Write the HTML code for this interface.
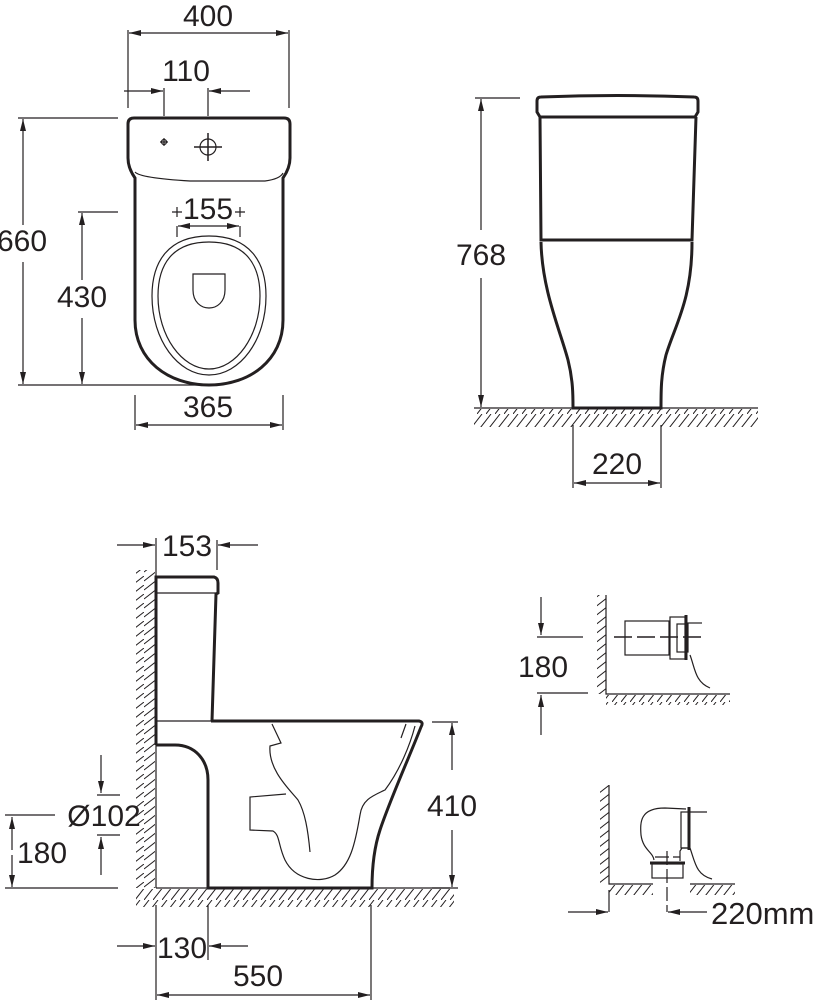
<!DOCTYPE html>
<html><head><meta charset="utf-8"><style>
html,body{margin:0;padding:0;background:#fff}
svg{display:block}
text{font-family:"Liberation Sans",sans-serif;font-size:30px;fill:#231f20}
</style></head><body>
<svg width="821" height="1000" viewBox="0 0 821 1000" xmlns="http://www.w3.org/2000/svg">
<defs>
<pattern id="hf" patternUnits="userSpaceOnUse" width="9" height="18"><path d="M-9,18 L5,0 M0,18 L14,0" stroke="#231f20" stroke-width="1"/></pattern>
<pattern id="hw" patternUnits="userSpaceOnUse" width="18" height="9"><path d="M0,5 L18,-9 M0,14 L18,0" stroke="#231f20" stroke-width="1"/></pattern>
<marker id="a" viewBox="0 0 12 6" refX="12" refY="3" markerWidth="12" markerHeight="6" orient="auto" markerUnits="userSpaceOnUse"><path d="M0,0 L12,3 L0,6 Z" fill="#231f20"/></marker>
</defs>
<g stroke="#231f20" fill="none" stroke-width="1.2">
<!-- TOP LEFT -->
<path d="M128,30 V108 M289,30 V108"/>
<path d="M208,33 H129" marker-end="url(#a)"/><path d="M208,33 H288" marker-end="url(#a)"/>
<path d="M164,88 V116 M208,88 V116"/>
<path d="M124,91 H163" marker-end="url(#a)"/><path d="M250,91 H209" marker-end="url(#a)"/>
<path d="M128,124 Q128,118 134,118 L284,118 Q290,118 290,124 L290,158 Q290,168 283,178 L283,320 C283,360 250,385 209,385 C168,385 135,360 135,320 L135,178 Q128,168 128,158 Z" stroke-width="3"/>
<path d="M135,172 Q140,178 190,181 L265,181 Q280,179 283,173"/>
<path d="M160,142 H168 M164,138 V146"/><circle cx="164" cy="142" r="2.5"/>
<circle cx="208" cy="147" r="8"/><path d="M194,147 H222 M208,133 V161" stroke-width="1.5"/>
<path d="M172,212 H182 M177,207 V217 M235,212 H245 M240,207 V217"/>
<path d="M177,226 V237 M240,226 V237"/>
<path d="M208,226 H178" marker-end="url(#a)"/><path d="M208,226 H239" marker-end="url(#a)"/>
<path d="M209,236 C250,236 266,262 266,296 C266,340 240,375 209,375 C178,375 152,340 152,296 C152,262 168,236 209,236 Z"/>
<path d="M209,242 C246,242 260,265 260,296 C260,336 236,369 209,369 C182,369 158,336 158,296 C158,265 172,242 209,242 Z"/>
<path d="M193,274 L225,274 L225,290 C225,302 217,308 209,308 C201,308 193,302 193,290 Z"/>
<path d="M18,118 H118 M18,385 H200 M78,212 H118"/>
<path d="M23,225 V119" marker-end="url(#a)"/><path d="M23,262 V384" marker-end="url(#a)"/>
<path d="M82,280 V213" marker-end="url(#a)"/><path d="M82,318 V384" marker-end="url(#a)"/>
<path d="M135,395 V430 M283,395 V430"/>
<path d="M208,425 H136" marker-end="url(#a)"/><path d="M208,425 H282" marker-end="url(#a)"/>
<!-- TOP RIGHT -->
<path d="M475,98 H520"/>
<path d="M481,230 V99" marker-end="url(#a)"/><path d="M481,278 V407" marker-end="url(#a)"/>
<path d="M537,101 Q537,97 541,97 Q617,94 694,97 Q698,97 698,101 L698,112 L695,117 L540,117 L537,112 Z" stroke-width="3"/>
<path d="M540,117 L541,240 L692,240 L696,117" stroke-width="3"/>
<path d="M541,242 C542,290 560,330 568,360 C573,380 573,395 573,408 L661,408 C661,390 661,375 666,355 C675,325 692,300 692,242" stroke-width="3"/>
<rect x="474" y="409" width="284" height="18" fill="url(#hf)" stroke="none"/>
<path d="M474,408 H758"/>
<path d="M573,425 V488 M661,425 V488"/>
<path d="M617,483 H574" marker-end="url(#a)"/><path d="M617,483 H660" marker-end="url(#a)"/>
<!-- BOTTOM LEFT -->
<path d="M156,538 V570 M217,540 V570"/>
<path d="M117,545 H155" marker-end="url(#a)"/><path d="M258,545 H218" marker-end="url(#a)"/>
<rect x="136" y="570" width="19" height="318" fill="url(#hw)" stroke="none"/>
<path d="M156,570 V888"/>
<path d="M156,745 V577 L214,577 Q218,578 218,583 L218,593 L216,594 L212,721" stroke-width="3"/>
<path d="M157,593 H216 M156,721 H211"/>
<path d="M211,721 L419,721 Q424,722 421,727 C408,760 390,800 380,830 C374,848 372,870 372,888 L208,888 L208,780 C208,760 195,745 175,745 L156,745" stroke-width="3"/>
<path d="M272,724 L281,743 L270,746 C268,770 290,790 298,800 C305,812 308,830 310,852"/>
<path d="M286,794 L250,797 L250,830 L273,831 C280,835 278,845 285,860 C295,880 320,884 335,875 C350,865 355,845 360,815 C362,800 372,796 385,790 C400,770 410,745 415,726"/>
<path d="M406,724 L401,738"/>
<rect x="136" y="889" width="318" height="18" fill="url(#hf)" stroke="none"/>
<path d="M156,888 H450"/>
<path d="M101,755 V793" marker-end="url(#a)"/><path d="M97,795 H120 M97,835 H120"/><path d="M101,875 V837" marker-end="url(#a)"/>
<path d="M5,815 H55 M5,888 H118"/>
<path d="M12,850 V817" marker-end="url(#a)"/><path d="M12,855 V887" marker-end="url(#a)"/>
<path d="M432,722 H458 M432,888 H458"/>
<path d="M452,770 V723" marker-end="url(#a)"/><path d="M452,830 V887" marker-end="url(#a)"/>
<path d="M208,905 V960 M156,905 V1000 M371,905 V1000"/>
<path d="M117,946 H155" marker-end="url(#a)"/><path d="M248,946 H209" marker-end="url(#a)"/>
<path d="M258,995 H157" marker-end="url(#a)"/><path d="M258,995 H370" marker-end="url(#a)"/>
<!-- BOTTOM RIGHT UPPER -->
<rect x="597" y="595" width="9" height="99" fill="url(#hw)" stroke="none"/>
<path d="M606,595 V694 H730"/>
<rect x="606" y="695" width="124" height="10" fill="url(#hf)" stroke="none"/>
<path d="M541,597 V635" marker-end="url(#a)"/><path d="M537,637 H583 M537,693 H588"/><path d="M541,735 V695" marker-end="url(#a)"/>
<rect x="625" y="621" width="44" height="34"/>
<rect x="670" y="617" width="15" height="42"/>
<rect x="677" y="624" width="11" height="28"/>
<path d="M686,615 V660" stroke-width="3"/>
<path d="M686,623 H702"/>
<path d="M614,637 H706" stroke-dasharray="18,5" stroke-width="1.5"/>
<path d="M690,655 C695,668 695,682 710,688"/>
<!-- BOTTOM RIGHT LOWER -->
<rect x="600" y="785" width="9" height="99" fill="url(#hw)" stroke="none"/>
<path d="M609,785 V884 H653 M690,884 H735"/>
<rect x="609" y="885" width="44" height="10" fill="url(#hf)" stroke="none"/>
<rect x="690" y="885" width="45" height="10" fill="url(#hf)" stroke="none"/>
<path d="M686,809 L665,808 C640,808 640,822 641,835 C643,850 653,852 654,860"/>
<rect x="652" y="864" width="31" height="14"/>
<path d="M650,863 H685" stroke-width="3"/>
<path d="M680,861 V851 L682,848 L688,848"/>
<rect x="681" y="812" width="8" height="36"/>
<path d="M689,807 V850" stroke-width="3"/>
<path d="M689,812 H707 M690,848 C695,862 696,875 712,879"/>
<path d="M667,851 V912 M655,857 H680" stroke-dasharray="14,4"/>
<path d="M609,890 V912"/>
<path d="M568,912 H608" marker-end="url(#a)"/><path d="M707,912 H668" marker-end="url(#a)"/>
</g>
<g>
<text x="208" y="26" text-anchor="middle">400</text>
<text x="186" y="81" text-anchor="middle">110</text>
<text x="208" y="219" text-anchor="middle">155</text>
<text x="22" y="251" text-anchor="middle">660</text>
<text x="82" y="307" text-anchor="middle">430</text>
<text x="208" y="417" text-anchor="middle">365</text>
<text x="481" y="265" text-anchor="middle">768</text>
<text x="617" y="474" text-anchor="middle">220</text>
<text x="187" y="556" text-anchor="middle">153</text>
<text x="104" y="826" text-anchor="middle">Ø102</text>
<text x="42" y="863" text-anchor="middle">180</text>
<text x="452" y="816" text-anchor="middle">410</text>
<text x="182" y="958" text-anchor="middle">130</text>
<text x="258" y="986" text-anchor="middle">550</text>
<text x="543" y="677" text-anchor="middle">180</text>
<text x="711" y="924" style="font-size:31px">220mm</text>
</g>
</svg>
</body></html>
